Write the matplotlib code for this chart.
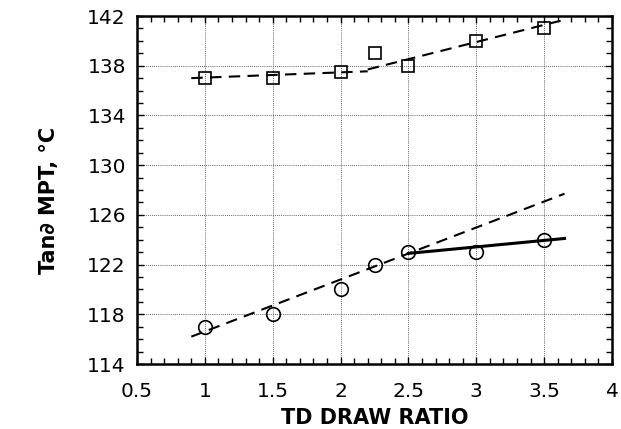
import matplotlib
matplotlib.use("Agg")
import matplotlib.pyplot as plt
from matplotlib.ticker import MultipleLocator

plt.rcParams['font.family'] = ['DejaVu Sans']

# measured points
draw_ratio = [1.0, 1.5, 2.0, 2.25, 2.5, 3.0, 3.5]
mpt_square = [137.0, 137.0, 137.5, 139.0, 138.0, 140.0, 141.0]
mpt_circle = [117.0, 118.0, 120.0, 122.0, 123.0, 123.0, 124.0]

# fitted trend lines (x ends, y ends)
sq_fit1_x, sq_fit1_y = [0.9, 2.2], [137.0, 137.55]
sq_fit2_x, sq_fit2_y = [2.2, 3.65], [137.7, 141.7]
ci_fit_x, ci_fit_y = [0.9, 3.65], [116.2, 127.7]
ci_solid_x, ci_solid_y = [2.5, 3.65], [122.9, 124.1]

x_ticks = [0.5, 1, 1.5, 2, 2.5, 3, 3.5, 4]
x_ticklabels = ['0.5', '1', '1.5', '2', '2.5', '3', '3.5', '4']
y_ticks = [114, 118, 122, 126, 130, 134, 138, 142]

fig = plt.figure(figsize=(6.21, 4.29), dpi=100)
ax = fig.add_axes([137 / 621, 1 - 364 / 429, 475 / 621, 348 / 429])

dash = dict(color='black', lw=1.5, linestyle=(0, (5.5, 3.5)))
ax.plot(sq_fit1_x, sq_fit1_y, **dash)
ax.plot(sq_fit2_x, sq_fit2_y, **dash)
ax.plot(ci_fit_x, ci_fit_y, **dash)
ax.plot(ci_solid_x, ci_solid_y, color='black', lw=2.2)

ax.plot(draw_ratio, mpt_square, linestyle='none', marker='s', ms=8.8,
        mfc='none', mec='black', mew=1.2)
ax.plot(draw_ratio, mpt_circle, linestyle='none', marker='o', ms=9.8,
        mfc='none', mec='black', mew=1.2)

ax.set_xlim(0.5, 4)
ax.set_ylim(114, 142)
ax.set_xticks(x_ticks)
ax.set_xticklabels(x_ticklabels)
ax.set_yticks(y_ticks)
ax.xaxis.set_minor_locator(MultipleLocator(0.1))
ax.yaxis.set_minor_locator(MultipleLocator(1))
ax.tick_params(which='both', direction='in', top=True, right=True,
               width=1.0, labelsize=14.5)
ax.tick_params(which='major', length=5)
ax.tick_params(which='minor', length=4)
ax.tick_params(axis='x', which='major', pad=13)
ax.tick_params(axis='y', which='major', pad=8)
ax.grid(True, which='major', color='#333333', linestyle=(0, (1, 1.5)), lw=0.6)
for s in ax.spines.values():
    s.set_linewidth(1.8)

ax.set_xlabel('TD DRAW RATIO', fontsize=15, fontweight='bold', labelpad=5)
ax.set_ylabel('Tan\u2202 MPT, \u00b0C', fontsize=15, fontweight='bold')
ax.yaxis.set_label_coords(-0.165, 0.47)

fig.savefig('out.png', dpi=100)
